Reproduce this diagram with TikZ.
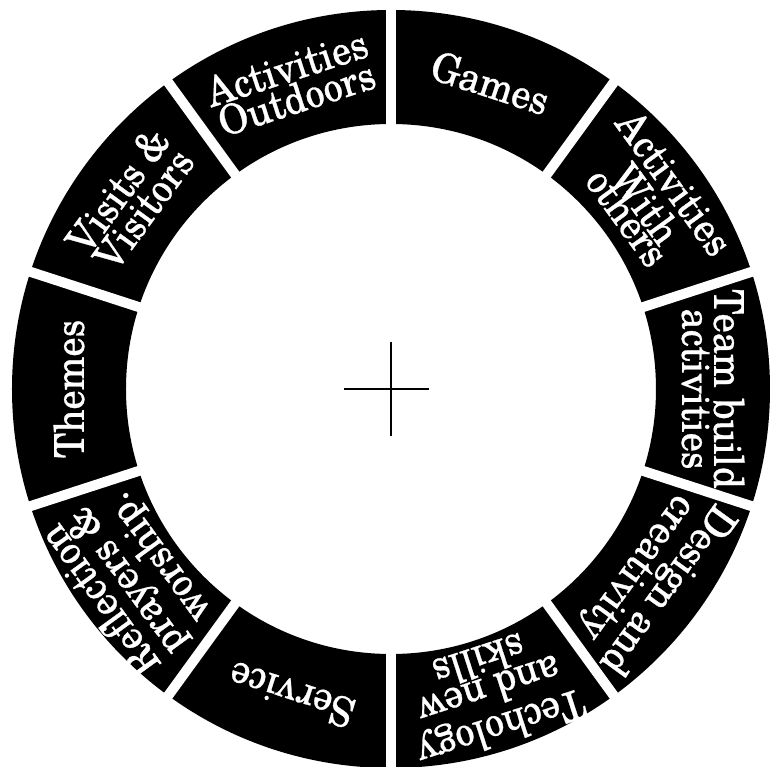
\documentclass[tikz,border=0pt]{standalone}
\usepackage{fontspec}
\setmainfont{TeX Gyre Schola}[FakeBold=0.7, FakeStretch=0.93]
\usetikzlibrary{positioning}

\begin{document}
\begin{tikzpicture}[
    x=1pt, y=1pt,
    seglbl/.style={text=white, align=center, inner sep=0pt,
                   font=\fontsize{41}{32}\selectfont},
    gapline/.style={draw=white, line width=10pt},
  ]
    \useasboundingbox (-391,-378) rectangle (389,389);
    \coordinate (hub) at (0,0);

    % ring and the white gaps between its ten parts
    \fill[black, even odd rule] (hub) circle (379) (hub) circle (265);
    \foreach \i in {0,...,9}
      \draw[gapline] (90+36*\i:255) -- (90+36*\i:392);

    % labels, turned along the ring
    \foreach \ang/\nm/\txt in {
        108/outdoors/{Activities\\Outdoors},
        72/games/{Games},
        36/others/{Activities\\[4pt]With\\[-10pt]others},
        0/team/{Team build\\activities},
        -36/design/{Design and\\creativity},
        -72/tech/{Techology\\and new\\skills},
        -108/service/{Service},
        -144/reflect/{Reflection\\prayers \&\\worship.},
        180/themes/{Themes},
        144/visits/{Visits \&\\Visitors}}
      \node[seglbl, rotate=\ang-90] (\nm) at (\ang:322) {\txt};

    \draw[line width=1.2pt] ([xshift=-47pt]hub) -- ([xshift=38pt]hub)
                            ([yshift=47pt]hub) -- ([yshift=-47pt]hub);
  \end{tikzpicture}
\end{document}
